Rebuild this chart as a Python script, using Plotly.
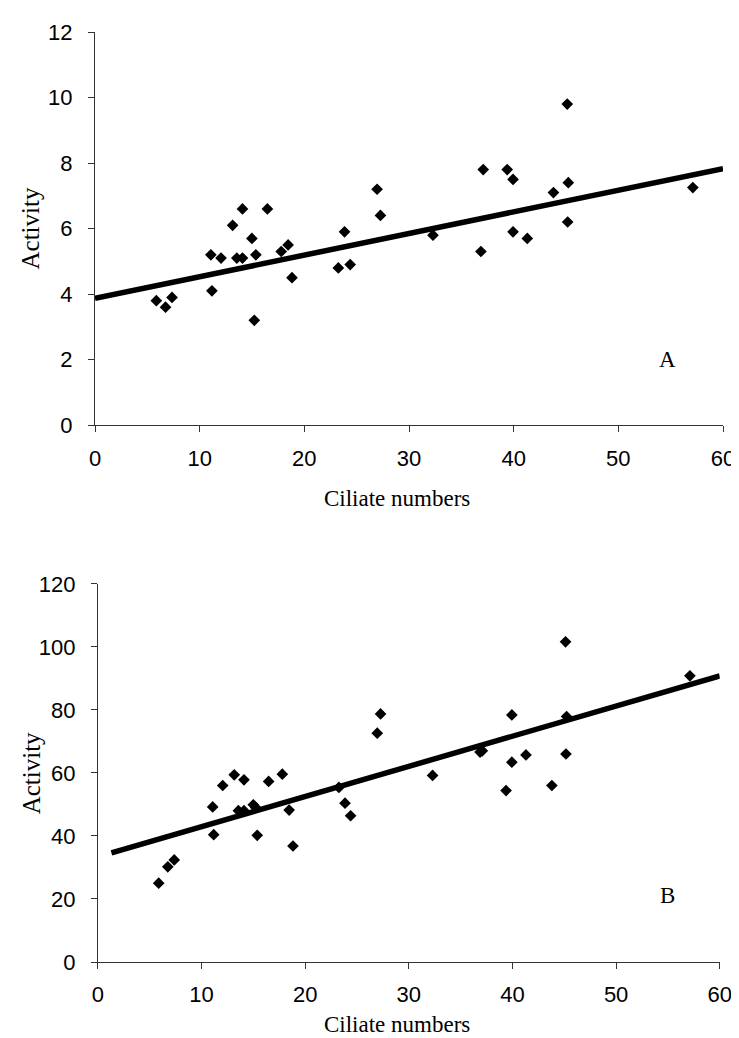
import plotly.graph_objects as go

# ---- data ----
ciliates = [5.86, 6.74, 7.36, 11.07, 11.17, 12.04, 13.15, 13.55, 14.09, 14.09,
            14.99, 15.37, 15.22, 16.47, 17.79, 18.45, 18.82, 23.25, 23.84, 24.38,
            26.95, 27.27, 32.29, 36.87, 37.09, 39.38, 39.94, 39.94, 41.30, 43.80,
            45.12, 45.22, 45.16, 57.12]
activity_a = [3.8, 3.6, 3.9, 5.2, 4.1, 5.1, 6.1, 5.1, 6.6, 5.1,
              5.7, 5.2, 3.2, 6.6, 5.3, 5.5, 4.5, 4.8, 5.9, 4.9,
              7.2, 6.4, 5.8, 5.3, 7.8, 7.8, 7.5, 5.9, 5.7, 7.1,
              9.8, 7.4, 6.2, 7.25]
activity_b = [25.0, 30.2, 32.4, 49.2, 40.4, 56.0, 59.4, 48.0, 57.8, 48.0,
              49.9, 40.2, 49.0, 57.3, 59.6, 48.2, 36.8, 55.4, 50.4, 46.4,
              72.6, 78.7, 59.2, 66.6, 67.0, 54.4, 78.4, 63.4, 65.7, 56.0,
              101.6, 77.9, 66.0, 90.8]
trend_a_x = [0, 60]
trend_a_y = [3.87, 7.83]
trend_b_x = [1.3, 60]
trend_b_y = [34.6, 90.8]

x_ticks = [0, 10, 20, 30, 40, 50, 60]
y_ticks_a = [0, 2, 4, 6, 8, 10, 12]
y_ticks_b = [0, 20, 40, 60, 80, 100, 120]

# ---- layout geometry ----
W, H = 739, 1038
ML, MR, MT, MB = 87, 15, 22, 84
PW, PH = W - ML - MR, H - MT - MB


def px(xp):
    return (xp - ML) / PW


def py(yp):
    return (H - MB - yp) / PH


SANS = "Liberation Sans, Arial, sans-serif"
SERIF = "Liberation Serif, Times New Roman, serif"

fig = go.Figure()

marker = dict(symbol="diamond", size=9, color="black", line=dict(width=0))

fig.add_trace(go.Scatter(x=ciliates, y=activity_a, mode="markers", marker=marker,
                         xaxis="x", yaxis="y", showlegend=False))
fig.add_trace(go.Scatter(x=trend_a_x, y=trend_a_y, mode="lines",
                         line=dict(color="black", width=5.5),
                         xaxis="x", yaxis="y", showlegend=False))
fig.add_trace(go.Scatter(x=ciliates, y=activity_b, mode="markers", marker=marker,
                         xaxis="x2", yaxis="y2", showlegend=False))
fig.add_trace(go.Scatter(x=trend_b_x, y=trend_b_y, mode="lines",
                         line=dict(color="black", width=5.5),
                         xaxis="x2", yaxis="y2", showlegend=False))

axis_common = dict(showgrid=False, zeroline=False, showline=True, linecolor="#333333",
                   linewidth=1, ticks="outside", ticklen=6, tickwidth=1, tickcolor="#333333",
                   tickfont=dict(family=SANS, size=22, color="black"))

fig.update_layout(
    width=W, height=H,
    margin=dict(l=ML, r=MR, t=MT, b=MB, pad=0),
    paper_bgcolor="white", plot_bgcolor="white",
    xaxis=dict(domain=[0, 1], range=[0, 60], tickvals=x_ticks, anchor="y",
               ticklabelstandoff=7, **axis_common),
    yaxis=dict(domain=[py(416), 1.0], range=[0, 12], tickvals=y_ticks_a, anchor="x",
               ticklabelstandoff=11, **axis_common),
    xaxis2=dict(domain=[px(90), px(720.7)], range=[0, 60], tickvals=x_ticks, anchor="y2",
                ticklabelstandoff=7, **axis_common),
    yaxis2=dict(domain=[0, py(575)], range=[0, 120], tickvals=y_ticks_b, anchor="x2",
                ticklabelstandoff=11, **axis_common),
)

title_font = dict(family=SERIF, size=23, color="black")
ytitle_font = dict(family=SERIF, size=25, color="black")
annotations = [
    dict(text="Activity", x=px(22), y=py(219), xref="paper", yref="paper",
         textangle=-90, showarrow=False, font=ytitle_font, xanchor="center", yanchor="middle"),
    dict(text="Ciliate numbers", x=px(393), y=py(490), xref="paper", yref="paper",
         showarrow=False, font=title_font, xanchor="center", yanchor="middle"),
    dict(text="Activity", x=px(22), y=py(765), xref="paper", yref="paper",
         textangle=-90, showarrow=False, font=ytitle_font, xanchor="center", yanchor="middle"),
    dict(text="Ciliate numbers", x=px(393), y=py(1017), xref="paper", yref="paper",
         showarrow=False, font=title_font, xanchor="center", yanchor="middle"),
    dict(text="A", x=54.7, y=2.0, xref="x", yref="y", showarrow=False, font=title_font),
    dict(text="B", x=55.0, y=21.2, xref="x2", yref="y2", showarrow=False, font=title_font),
]
fig.update_layout(annotations=annotations)

fig.write_html("out.html")
